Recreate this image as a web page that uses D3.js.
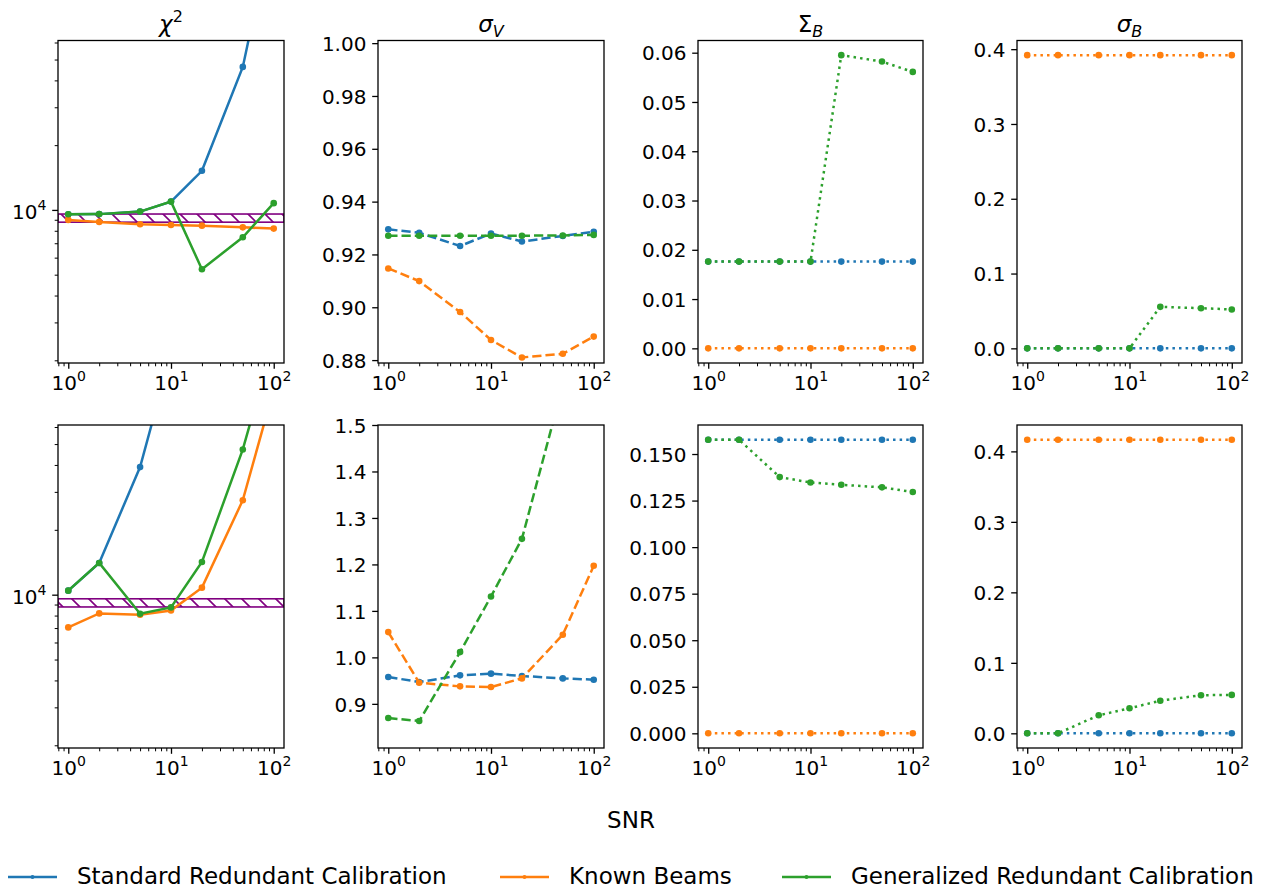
<!DOCTYPE html>
<html><head><meta charset="utf-8">
<script src="https://cdn.jsdelivr.net/npm/d3@7"></script>
<style>
body{margin:0;background:#fff}
svg{display:block}
text{font-family:"DejaVu Sans",sans-serif;fill:#000}
</style>
</head><body>
<svg id="c" width="1262" height="890"></svg>
<script>
// ---------------- data ----------------
const snr = [1, 2, 5, 10, 20, 50, 100];
const seriesNames = ["Standard Redundant Calibration", "Known Beams", "Generalized Redundant Calibration"];
const seriesColors = ["#1f77b4", "#ff7f0e", "#2ca02c"];
const chi2Band = [8770, 9570];

// top row
const chi2TopSRC = [9550, 9560, 9820, 10930, 15200, 46200, 218000];
const chi2TopKB  = [8985, 8795, 8580, 8515, 8450, 8300, 8187];
const chi2TopGRC = [9550, 9560, 9820, 10930, 5300, 7460, 10750];

const sigVTopSRC = [0.9295, 0.9282, 0.9232, 0.9279, 0.9249, 0.9270, 0.9286];
const sigVTopKB  = [0.9147, 0.9099, 0.8982, 0.8876, 0.8810, 0.8824, 0.8889];
const sigVTopGRC = [0.9271, 0.9271, 0.9271, 0.9271, 0.9271, 0.9272, 0.9274];

const SigBTopSRC = [0.0176, 0.0176, 0.0176, 0.0176, 0.0176, 0.0176, 0.0176];
const SigBTopKB  = [0, 0, 0, 0, 0, 0, 0];
const SigBTopGRC = [0.0176, 0.0176, 0.0176, 0.0176, 0.0595, 0.0582, 0.0561];

const sigBTopSRC = [0, 0, 0, 0, 0, 0, 0];
const sigBTopKB  = [0.392, 0.392, 0.392, 0.392, 0.392, 0.392, 0.392];
const sigBTopGRC = [0, 0, 0, 0, 0.0555, 0.0537, 0.0520];

// bottom row
const chi2BotSRC = [10440, 14040, 39100, 132000, 420000, 1500000, 4000000];
const chi2BotKB  = [7050, 8186, 8070, 8450, 10780, 27450, 89800];
const chi2BotGRC = [10440, 14040, 8160, 8730, 14190, 47200, 152000];

const sigVBotSRC = [0.9577, 0.9470, 0.9613, 0.9650, 0.9600, 0.9548, 0.9520];
const sigVBotKB  = [1.0544, 0.9455, 0.9376, 0.9362, 0.9548, 1.0488, 1.1970];
const sigVBotGRC = [0.8695, 0.8630, 1.0114, 1.1310, 1.2550, 1.5850, 1.8500];

const SigBBotSRC = [0.1577, 0.1577, 0.1577, 0.1577, 0.1577, 0.1577, 0.1577];
const SigBBotKB  = [0, 0, 0, 0, 0, 0, 0];
const SigBBotGRC = [0.1577, 0.1577, 0.1376, 0.1347, 0.1335, 0.1321, 0.1296];

const sigBBotSRC = [0, 0, 0, 0, 0, 0, 0];
const sigBBotKB  = [0.4166, 0.4166, 0.4166, 0.4166, 0.4166, 0.4166, 0.4166];
const sigBBotGRC = [0, 0, 0.0256, 0.0355, 0.0463, 0.0540, 0.0545];

const xTicks = [1, 10, 100];
const xTickExp = ["0", "1", "2"];

// ---------------- layout ----------------
const svg = d3.select("#c");
const defs = svg.append("defs");
const colX = [[58, 284], [378, 604], [698, 923], [1017, 1242]];
const rowY = [[40.5, 363], [425, 748]];
const LW = 2.5;
const DASH = {solid: null, dashed: "9.25,4", dotted: "2.5,4.1"};

// hatch pattern
const pat = defs.append("pattern").attr("id", "hatch")
  .attr("patternUnits", "userSpaceOnUse").attr("width", 17).attr("height", 17);
pat.append("path").attr("d", "M0,0L17,17M-3,14L3,20M14,-3L20,3")
  .attr("stroke", "purple").attr("stroke-width", 1.6).attr("fill", "none");

function autoDomain(arrs) {
  const all = arrs.flat();
  const lo = d3.min(all), hi = d3.max(all);
  const m = (hi - lo) * 0.05;
  return [lo - m, hi + m];
}

const panels = [
  // row 0
  {row: 0, col: 0, title: "chi", type: "log", domain: [1943, 61300], style: "solid",
   data: [chi2TopSRC, chi2TopKB, chi2TopGRC], band: true},
  {row: 0, col: 1, title: "sigV", type: "lin", domain: [0.8789, 1.001], ticks: d3.range(0.88, 1.0001, 0.02), fmt: ".2f", style: "dashed",
   data: [sigVTopSRC, sigVTopKB, sigVTopGRC]},
  {row: 0, col: 2, title: "SigB", type: "lin", ticks: d3.range(0, 0.0601, 0.01), fmt: ".2f", style: "dotted",
   data: [SigBTopSRC, SigBTopKB, SigBTopGRC]},
  {row: 0, col: 3, title: "sigB", type: "lin", ticks: d3.range(0, 0.401, 0.1), fmt: ".1f", style: "dotted",
   data: [sigBTopSRC, sigBTopKB, sigBTopGRC]},
  // row 1
  {row: 1, col: 0, type: "log", domain: [1943, 61300], style: "solid",
   data: [chi2BotSRC, chi2BotKB, chi2BotGRC], band: true},
  {row: 1, col: 1, type: "lin", domain: [0.805, 1.5], ticks: d3.range(0.9, 1.5001, 0.1), fmt: ".1f", style: "dashed",
   data: [sigVBotSRC, sigVBotKB, sigVBotGRC]},
  {row: 1, col: 2, type: "lin", ticks: d3.range(0, 0.1501, 0.025), fmt: ".3f", style: "dotted",
   data: [SigBBotSRC, SigBBotKB, SigBBotGRC]},
  {row: 1, col: 3, type: "lin", ticks: d3.range(0, 0.401, 0.1), fmt: ".1f", style: "dotted",
   data: [sigBBotSRC, sigBBotKB, sigBBotGRC]},
];

function supText(sel, base, exp, fs) {
  sel.text(null);
  sel.append("tspan").text(base);
  sel.append("tspan").attr("dy", -0.45 * fs).attr("font-size", fs * 0.7).text(exp);
}

panels.forEach((p, i) => {
  const [x0, x1] = colX[p.col];
  const [y0, y1] = rowY[p.row];
  const x = d3.scaleLog().domain([Math.pow(10, -0.1), Math.pow(10, 2.1)]).range([x0, x1]);
  const dom = p.domain || autoDomain(p.data);
  const y = (p.type === "log" ? d3.scaleLog() : d3.scaleLinear()).domain(dom).range([y1, y0]);
  const g = svg.append("g");

  defs.append("clipPath").attr("id", "clip" + i).append("rect")
    .attr("x", x0).attr("y", y0).attr("width", x1 - x0).attr("height", y1 - y0);

  const plot = g.append("g").attr("clip-path", `url(#clip${i})`);

  if (p.band) {
    plot.append("rect").attr("x", x0).attr("width", x1 - x0)
      .attr("y", y(chi2Band[1])).attr("height", y(chi2Band[0]) - y(chi2Band[1]))
      .attr("fill", "url(#hatch)").attr("stroke", "purple").attr("stroke-width", 1.6);
  }

  const line = d3.line().x((d, k) => x(snr[k])).y(d => y(d));
  p.data.forEach((arr, s) => {
    plot.append("path").datum(arr).attr("d", line)
      .attr("fill", "none").attr("stroke", seriesColors[s]).attr("stroke-width", LW)
      .attr("stroke-dasharray", DASH[p.style]);
    plot.selectAll(null).data(arr).enter().append("circle")
      .attr("cx", (d, k) => x(snr[k])).attr("cy", d => y(d)).attr("r", 3.3)
      .attr("fill", seriesColors[s]);
  });

  // x axis
  const xMinor = [0.8, 0.9, 2, 3, 4, 5, 6, 7, 8, 9, 20, 30, 40, 50, 60, 70, 80, 90];
  const gxm = g.append("g").attr("transform", `translate(0,${y1})`)
    .call(d3.axisBottom(x).tickValues(xMinor).tickSize(3.3).tickFormat(""));
  gxm.select(".domain").remove();
  gxm.selectAll(".tick line").attr("stroke", "#000").attr("stroke-width", 1);
  const gx = g.append("g").attr("transform", `translate(0,${y1})`)
    .call(d3.axisBottom(x).tickValues(xTicks).tickSize(5.8).tickPadding(5.8));
  gx.select(".domain").remove();
  gx.selectAll(".tick line").attr("stroke", "#000").attr("stroke-width", 1.3);
  gx.selectAll(".tick text").attr("font-size", 20).attr("font-family", "DejaVu Sans")
    .attr("y", 27).attr("dy", null)
    .each(function (d, k) { supText(d3.select(this), "10", xTickExp[k], 20); });

  // y axis
  if (p.type === "log") {
    const minor = [];
    [1000, 10000].forEach(dec => { for (let m = 2; m <= 9; m++) { const v = m * dec; if (v > dom[0] && v < dom[1]) minor.push(v); } });
    const gym = g.append("g").attr("transform", `translate(${x0},0)`)
      .call(d3.axisLeft(y).tickValues(minor).tickSize(3.3).tickFormat(""));
    gym.select(".domain").remove();
    gym.selectAll(".tick line").attr("stroke", "#000").attr("stroke-width", 1);
    const gy = g.append("g").attr("transform", `translate(${x0},0)`)
      .call(d3.axisLeft(y).tickValues([10000]).tickSize(5.8).tickPadding(5.8));
    gy.select(".domain").remove();
    gy.selectAll(".tick line").attr("stroke", "#000").attr("stroke-width", 1.3);
    gy.selectAll(".tick text").attr("font-size", 20).attr("font-family", "DejaVu Sans").attr("dy", 9)
      .each(function () { supText(d3.select(this), "10", "4", 20); });
  } else {
    const gy = g.append("g").attr("transform", `translate(${x0},0)`)
      .call(d3.axisLeft(y).tickValues(p.ticks).tickSize(5.8).tickPadding(5.8).tickFormat(d3.format(p.fmt)));
    gy.select(".domain").remove();
    gy.selectAll(".tick line").attr("stroke", "#000").attr("stroke-width", 1.3);
    gy.selectAll(".tick text").attr("font-size", 20).attr("font-family", "DejaVu Sans").attr("dy", 7.2);
  }

  // frame
  g.append("rect").attr("x", x0).attr("y", y0).attr("width", x1 - x0).attr("height", y1 - y0)
    .attr("fill", "none").attr("stroke", "#000").attr("stroke-width", 1.3);

  // title
  if (p.title) {
    const t = g.append("text").attr("x", (x0 + x1) / 2).attr("y", y0 - 9)
      .attr("text-anchor", "middle").attr("font-size", 23);
    if (p.title === "chi") {
      t.append("tspan").attr("font-style", "italic").text("χ");
      t.append("tspan").attr("dy", -10).attr("font-size", 16).text("2");
    } else if (p.title === "sigV") {
      t.append("tspan").attr("font-style", "italic").text("σ");
      t.append("tspan").attr("dy", 5).attr("font-size", 16).attr("font-style", "italic").text("V");
    } else if (p.title === "SigB") {
      t.append("tspan").text("Σ");
      t.append("tspan").attr("dy", 5).attr("font-size", 16).attr("font-style", "italic").text("B");
    } else if (p.title === "sigB") {
      t.append("tspan").attr("font-style", "italic").text("σ");
      t.append("tspan").attr("dy", 5).attr("font-size", 16).attr("font-style", "italic").text("B");
    }
  }
});

// x label
svg.append("text").attr("x", 631).attr("y", 828).attr("text-anchor", "middle")
  .attr("font-size", 23).text("SNR");

// legend
const legX = [8, 500, 782];
seriesNames.forEach((name, s) => {
  const lg = svg.append("g");
  lg.append("line").attr("x1", legX[s]).attr("x2", legX[s] + 49).attr("y1", 877).attr("y2", 877)
    .attr("stroke", seriesColors[s]).attr("stroke-width", LW);
  lg.append("circle").attr("cx", legX[s] + 24.5).attr("cy", 877).attr("r", 2).attr("fill", seriesColors[s]);
  lg.append("text").attr("x", legX[s] + 69).attr("y", 884).attr("font-size", 23).text(name);
});
</script>
</body></html>
